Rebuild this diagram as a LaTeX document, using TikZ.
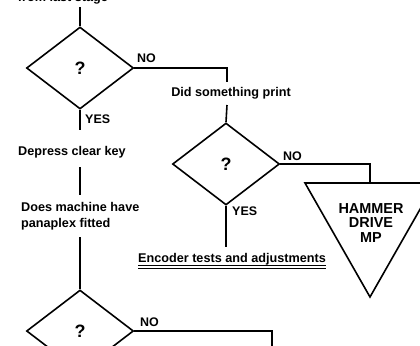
\documentclass[tikz,border=0pt]{standalone}
\usepackage{fontspec}
\setmainfont{Liberation Sans}
\usetikzlibrary{shapes.geometric}

\begin{document}
\begin{tikzpicture}[x=1bp,y=-1bp,
  flow/.style={line width=1.6bp},
  decision/.style={diamond, draw, line width=1.6bp, minimum width=107bp,
    minimum height=82bp, inner sep=0pt, font=\fontsize{18}{18}\selectfont\bfseries},
  txt/.style={inner sep=0pt, font=\fontsize{12.7}{16}\selectfont\bfseries},
  answer/.style={inner sep=0pt, anchor=base west, font=\fontsize{12.5}{13}\selectfont\bfseries},
  mpbox/.style={inner sep=0pt, align=center, font=\fontsize{14.5}{15}\selectfont\bfseries}]
\useasboundingbox (0,0) rectangle (420,346);
\begin{scope}
\clip (0,0) rectangle (420,346);

% entry from the previous stage
\node[txt, anchor=base] (entry) at (63,1) {from last stage};
\coordinate (c0) at (80,7);

% first decision
\node[decision] (d1) at (80,68) {?};
\node[answer] (no1) at (137,62) {NO};
\node[answer] (yes1) at (85,123) {YES};

% NO branch: did something print
\coordinate (k1) at (227,82);
\node[txt, anchor=base] (print) at (231,96) {Did something print};
\coordinate (k2) at (227,105);
\node[decision] (d2) at (226,164) {?};
\node[answer] (no2) at (283,160) {NO};
\node[answer] (yes2) at (232,215) {YES};

% hammer drive module
\coordinate (tritop) at (370,183);
\draw[flow] (305,183) -- (435,183) -- (370,297) -- cycle;
\node[mpbox] (hammer) at (371,223) {HAMMER\\DRIVE\\MP};

% encoder tests
\coordinate (k3) at (226,247);
\node[txt, anchor=base] (enc) at (232,262) {Encoder tests and adjustments};
\draw[line width=1bp] (138,265.5) -- (326,265.5);
\draw[line width=1bp] (138,268.5) -- (326,268.5);

% YES branch: clear key, panaplex check
\coordinate (k4) at (80,130);
\node[txt, anchor=base] (clear) at (72,155) {Depress clear key};
\coordinate (k5) at (80,167);
\coordinate (k6) at (80,195);
\node[txt, anchor=north west, align=left] (pana) at (21,202) {Does machine have\\panaplex fitted};
\coordinate (k7) at (80,237);
\node[decision] (d3) at (80,331) {?};
\node[answer] (no3) at (140,326) {NO};
\coordinate (k8) at (272,360);

% connectors
\draw[flow] (c0) -- (d1.north);
\draw[flow] (d1.east) -| (k1);
\draw[flow] (k2) -- (d2.north);
\draw[flow] (d2.east) -| (tritop);
\draw[flow] (d2.south) -- (k3);
\draw[flow] (d1.south) -- (k4);
\draw[flow] (k5) -- (k6);
\draw[flow] (k7) -- (d3.north);
\draw[flow] (d3.east) -| (k8);
\end{scope}
\end{tikzpicture}
\end{document}
